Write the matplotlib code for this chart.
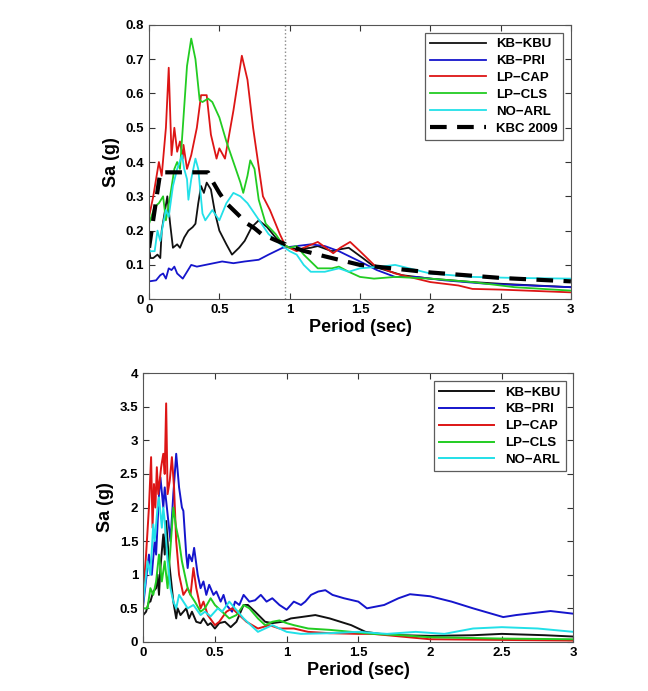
import numpy as np
import matplotlib.pyplot as plt

plt.rcParams['font.family'] = ['Liberation Sans', 'DejaVu Sans']
plt.rcParams['font.weight'] = 'bold'

# ---------------- top panel data (Sa in g vs period in sec) ----------------
kbu_t = [0, 0.01, 0.03, 0.06, 0.08, 0.09, 0.11, 0.13, 0.15, 0.17, 0.2, 0.22, 0.25, 0.28, 0.31, 0.33,
         0.35, 0.37, 0.39, 0.41, 0.44, 0.47, 0.5, 0.55, 0.59, 0.64, 0.68, 0.73, 0.78, 0.84, 0.9, 0.97,
         1.05, 1.15, 1.2, 1.3, 1.35, 1.42, 1.52, 1.6, 1.8, 2.0, 2.3, 2.5, 3.0]
kbu_sa = [0.15, 0.12, 0.12, 0.13, 0.12, 0.2, 0.25, 0.3, 0.22, 0.15, 0.16, 0.15, 0.18, 0.2, 0.21, 0.22,
          0.28, 0.33, 0.31, 0.34, 0.32, 0.25, 0.2, 0.16, 0.13, 0.15, 0.17, 0.21, 0.23, 0.21, 0.18, 0.155,
          0.145, 0.15, 0.155, 0.14, 0.145, 0.15, 0.12, 0.095, 0.07, 0.06, 0.05, 0.045, 0.035]

pri_t = [0, 0.05, 0.08, 0.1, 0.12, 0.14, 0.16, 0.18, 0.2, 0.24, 0.27, 0.3, 0.34, 0.4, 0.46, 0.52,
         0.6, 0.68, 0.78, 0.85, 0.95, 1.05, 1.15, 1.25, 1.35, 1.5, 1.62, 1.75, 1.9, 2.1, 2.4, 2.7, 3.0]
pri_sa = [0.052, 0.055, 0.07, 0.075, 0.06, 0.09, 0.085, 0.095, 0.075, 0.06, 0.08, 0.1, 0.095, 0.1, 0.105, 0.11,
          0.105, 0.11, 0.115, 0.13, 0.15, 0.155, 0.16, 0.155, 0.14, 0.11, 0.085, 0.065, 0.065, 0.055, 0.045, 0.04, 0.035]

cap_t = [0, 0.03, 0.07, 0.09, 0.12, 0.14, 0.16, 0.18, 0.2, 0.22, 0.24, 0.245, 0.27, 0.3, 0.34, 0.37,
         0.41, 0.44, 0.48, 0.5, 0.54, 0.6, 0.66, 0.7, 0.74, 0.81, 0.86, 0.93, 0.97, 1.05, 1.1, 1.2,
         1.31, 1.36, 1.43, 1.5, 1.6, 1.75, 1.85, 2.0, 2.2, 2.3, 2.5, 3.0]
cap_sa = [0.24, 0.3, 0.4, 0.36, 0.5, 0.675, 0.42, 0.5, 0.43, 0.46, 0.41, 0.45, 0.38, 0.42, 0.5, 0.595,
          0.595, 0.48, 0.41, 0.44, 0.41, 0.55, 0.71, 0.64, 0.5, 0.3, 0.26, 0.19, 0.155, 0.14, 0.15, 0.167,
          0.134, 0.15, 0.167, 0.14, 0.1, 0.075, 0.065, 0.05, 0.04, 0.03, 0.028, 0.02]

cls_t = [0, 0.04, 0.07, 0.1, 0.12, 0.15, 0.18, 0.2, 0.22, 0.24, 0.27, 0.3, 0.33, 0.36, 0.38, 0.42,
         0.45, 0.5, 0.55, 0.6, 0.65, 0.67, 0.7, 0.72, 0.75, 0.78, 0.83, 0.9, 0.95, 1.0, 1.05, 1.1,
         1.2, 1.3, 1.35, 1.42, 1.5, 1.6, 1.75, 2.0, 2.3, 2.6, 3.0]
cls_sa = [0.22, 0.27, 0.28, 0.3, 0.23, 0.3, 0.38, 0.4, 0.38, 0.5, 0.68, 0.76, 0.7, 0.58, 0.575, 0.585,
          0.575, 0.53, 0.46, 0.4, 0.34, 0.31, 0.36, 0.405, 0.38, 0.29, 0.22, 0.19, 0.16, 0.15, 0.155, 0.13,
          0.09, 0.09, 0.095, 0.08, 0.065, 0.06, 0.065, 0.06, 0.05, 0.035, 0.025]

arl_t = [0, 0.04, 0.06, 0.08, 0.1, 0.12, 0.14, 0.17, 0.2, 0.235, 0.25, 0.27, 0.28, 0.3, 0.33, 0.35,
         0.38, 0.4, 0.45, 0.5, 0.55, 0.6, 0.65, 0.7, 0.75, 0.85, 0.95, 1.0, 1.05, 1.1, 1.15, 1.25,
         1.35, 1.42, 1.5, 1.65, 1.75, 1.85, 2.0, 2.3, 2.6, 3.0]
arl_sa = [0.14, 0.14, 0.2, 0.17, 0.22, 0.26, 0.24, 0.33, 0.38, 0.42, 0.38, 0.35, 0.29, 0.35, 0.41, 0.38,
          0.25, 0.23, 0.26, 0.23, 0.28, 0.31, 0.3, 0.28, 0.25, 0.19, 0.155, 0.14, 0.13, 0.1, 0.08, 0.08,
          0.09, 0.08, 0.09, 0.095, 0.1, 0.09, 0.075, 0.065, 0.062, 0.06]

kbc_t = [0, 0.08, 0.42, 0.45, 0.5, 0.55, 0.6, 0.65, 0.7, 0.75, 0.8, 0.9, 1.0, 1.1, 1.25, 1.5,
         1.75, 2.0, 2.5, 3.0]
kbc_sa = [0.15, 0.37, 0.37, 0.345, 0.31, 0.28, 0.26, 0.24, 0.22, 0.207, 0.19, 0.172, 0.155, 0.141, 0.125, 0.10,
          0.089, 0.078, 0.062, 0.052]

# ---------------- bottom panel data ----------------
kbu2_t = [0, 0.02, 0.04, 0.05, 0.07, 0.09, 0.1, 0.11, 0.12, 0.14, 0.15, 0.16, 0.18, 0.2, 0.21, 0.23,
          0.24, 0.26, 0.28, 0.3, 0.32, 0.34, 0.37, 0.4, 0.42, 0.45, 0.47, 0.5, 0.53, 0.57, 0.61, 0.65,
          0.7, 0.73, 0.78, 0.85, 0.9, 0.97, 1.03, 1.1, 1.2, 1.3, 1.45, 1.55, 1.65, 1.8, 2.0, 2.3, 2.5, 2.8, 3.0]
kbu2_sa = [0.4, 0.45, 0.6, 0.6, 0.75, 0.8, 1.0, 0.7, 1.1, 1.6, 1.3, 1.8, 1.2, 0.8, 0.6, 0.35,
           0.5, 0.4, 0.45, 0.5, 0.35, 0.45, 0.3, 0.28, 0.35, 0.25, 0.28, 0.2, 0.28, 0.3, 0.22, 0.3,
           0.55, 0.55, 0.45, 0.3, 0.28, 0.3, 0.35, 0.37, 0.4, 0.35, 0.25, 0.15, 0.12, 0.1, 0.09, 0.1, 0.12, 0.1, 0.08]

pri2_t = [0, 0.04, 0.06, 0.08, 0.09, 0.11, 0.12, 0.14, 0.15, 0.17, 0.19, 0.21, 0.23, 0.25, 0.27, 0.28,
          0.3, 0.31, 0.32, 0.34, 0.355, 0.38, 0.4, 0.42, 0.44, 0.46, 0.49, 0.51, 0.54, 0.56, 0.58, 0.62,
          0.64, 0.67, 0.7, 0.74, 0.78, 0.82, 0.86, 0.9, 0.95, 1.0, 1.05, 1.1, 1.13, 1.17, 1.22, 1.27,
          1.32, 1.4, 1.5, 1.56, 1.68, 1.78, 1.86, 2.0, 2.15, 2.3, 2.51, 2.6, 2.84, 3.0]
pri2_sa = [0.55, 1.3, 1.0, 1.5, 1.3, 2.2, 2.45, 2.0, 2.3, 1.9, 1.5, 2.2, 2.8, 2.3, 2.0, 1.95,
           1.3, 1.1, 1.3, 1.2, 1.4, 1.0, 0.8, 0.9, 0.7, 0.85, 0.7, 0.75, 0.6, 0.7, 0.55, 0.45,
           0.6, 0.55, 0.7, 0.6, 0.62, 0.7, 0.6, 0.65, 0.55, 0.48, 0.6, 0.55, 0.6, 0.7, 0.75, 0.77,
           0.7, 0.65, 0.6, 0.5, 0.55, 0.65, 0.71, 0.68, 0.6, 0.5, 0.37, 0.4, 0.46, 0.42]

cap2_t = [0, 0.02, 0.04, 0.055, 0.065, 0.075, 0.085, 0.095, 0.105, 0.115, 0.125, 0.14, 0.15, 0.16, 0.17, 0.185,
          0.2, 0.215, 0.23, 0.25, 0.28, 0.31, 0.33, 0.35, 0.37, 0.4, 0.42, 0.45, 0.5, 0.53, 0.58, 0.62,
          0.67, 0.72, 0.8, 0.88, 0.95, 1.05, 1.15, 1.3, 1.5, 1.6, 1.8, 2.0, 2.5, 3.0]
cap2_sa = [0.7, 1.3, 2.0, 2.75, 1.7, 2.35, 2.0, 2.6, 2.2, 2.4, 2.6, 2.8, 2.5, 3.55, 2.2, 2.4,
           2.75, 2.3, 1.5, 1.0, 0.7, 0.8, 0.7, 1.1, 0.8, 0.5, 0.6, 0.4, 0.25, 0.3, 0.45, 0.5,
           0.4, 0.3, 0.2, 0.25, 0.2, 0.2, 0.15, 0.13, 0.12, 0.12, 0.08, 0.04, 0.03, 0.02]

cls2_t = [0, 0.03, 0.05, 0.07, 0.09, 0.11, 0.13, 0.15, 0.17, 0.19, 0.21, 0.23, 0.25, 0.27, 0.29, 0.31,
          0.33, 0.36, 0.4, 0.43, 0.47, 0.5, 0.55, 0.6, 0.65, 0.7, 0.74, 0.8, 0.85, 0.9, 0.95, 1.0,
          1.05, 1.15, 1.3, 1.45, 1.6, 1.8, 2.0, 2.5, 3.0]
cls2_sa = [0.5, 0.5, 0.8, 0.7, 0.9, 1.3, 0.9, 1.2, 0.8, 1.4, 2.0, 1.7, 1.5, 1.2, 1.0, 0.8,
           0.7, 0.6, 0.45, 0.5, 0.65, 0.55, 0.45, 0.35, 0.4, 0.55, 0.5, 0.35, 0.25, 0.3, 0.32, 0.28,
           0.25, 0.2, 0.18, 0.15, 0.12, 0.1, 0.07, 0.05, 0.04]

arl2_t = [0, 0.03, 0.05, 0.07, 0.08, 0.1, 0.11, 0.13, 0.14, 0.15, 0.17, 0.19, 0.21, 0.23, 0.25, 0.28,
          0.31, 0.35, 0.4, 0.43, 0.47, 0.52, 0.55, 0.6, 0.64, 0.7, 0.75, 0.8, 0.85, 0.9, 0.95, 1.0,
          1.1, 1.3, 1.5, 1.7, 1.9, 2.1, 2.3, 2.5, 2.75, 3.0]
arl2_sa = [0.6, 1.2, 1.0, 1.75, 1.5, 2.0, 2.15, 1.7, 2.0, 1.8, 1.2, 0.8, 0.6, 0.5, 0.7, 0.6,
           0.5, 0.55, 0.4, 0.45, 0.38, 0.5, 0.45, 0.6, 0.5, 0.35, 0.25, 0.15, 0.2, 0.25, 0.2, 0.15,
           0.12, 0.13, 0.15, 0.12, 0.15, 0.12, 0.2, 0.22, 0.2, 0.15]

names = ['KB\u2212KBU', 'KB\u2212PRI', 'LP\u2212CAP', 'LP\u2212CLS', 'NO\u2212ARL']
colors = ['#111111', '#1515cc', '#dd1515', '#22cc22', '#22e0e8']

fig = plt.figure(figsize=(6.48, 6.91), dpi=100)
ax1 = fig.add_axes([0.230, 0.567, 0.651, 0.397])
ax2 = fig.add_axes([0.221, 0.071, 0.664, 0.389])

top = [(kbu_t, kbu_sa), (pri_t, pri_sa), (cap_t, cap_sa), (cls_t, cls_sa), (arl_t, arl_sa)]
bot = [(kbu2_t, kbu2_sa), (pri2_t, pri2_sa), (cap2_t, cap2_sa), (cls2_t, cls2_sa), (arl2_t, arl2_sa)]

for (t, s), name, c in zip(top, names, colors):
    ax1.plot(t, s, color=c, lw=1.3, label=name)
ax1.plot(kbc_t, kbc_sa, color='black', lw=3, ls=(0, (4, 2.5)), label='KBC 2009')
ax1.axvline(0.97, color='#888888', ls=':', lw=1)

for (t, s), name, c in zip(bot, names, colors):
    ax2.plot(t, s, color=c, lw=1.4, label=name)

ax1.set_ylim(0, 0.8)
ax1.set_yticks(np.arange(0, 0.81, 0.1))
ax1.set_yticklabels(['0', '0.1', '0.2', '0.3', '0.4', '0.5', '0.6', '0.7', '0.8'])
ax2.set_ylim(0, 4)
ax2.set_yticks(np.arange(0, 4.01, 0.5))
ax2.set_yticklabels(['0', '0.5', '1', '1.5', '2', '2.5', '3', '3.5', '4'])

for ax in (ax1, ax2):
    ax.set_xlim(0, 3)
    ax.set_xticks([0, 0.5, 1, 1.5, 2, 2.5, 3])
    ax.set_xticklabels(['0', '0.5', '1', '1.5', '2', '2.5', '3'])
    ax.tick_params(direction='in', top=True, right=True, labelsize=9.5, length=4, width=0.8, colors='#333333')
    for lab in ax.get_xticklabels() + ax.get_yticklabels():
        lab.set_fontweight('bold')
        lab.set_color('black')
    for sp in ax.spines.values():
        sp.set_color('#555555')
        sp.set_linewidth(0.8)
    ax.set_xlabel('Period (sec)', fontsize=13, fontweight='bold', labelpad=2)
    ax.set_ylabel('Sa (g)', fontsize=13, fontweight='bold', labelpad=4)
    leg = ax.legend(loc='upper right', fontsize=9.5, frameon=True, fancybox=False,
                    handlelength=4.2, borderpad=0.4, labelspacing=0.35, borderaxespad=0.6)
    leg.get_frame().set_edgecolor('#333333')
    leg.get_frame().set_linewidth(0.9)
    for txt in leg.get_texts():
        txt.set_fontweight('bold')

fig.savefig('out.png', dpi=100)
